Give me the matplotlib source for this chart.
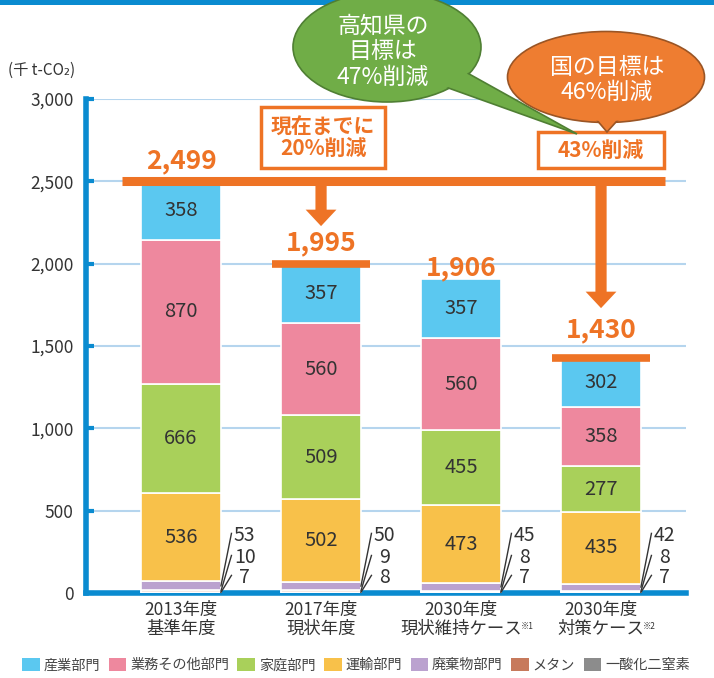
import matplotlib.pyplot as plt
import numpy as np
from matplotlib.patches import Ellipse, Polygon, Rectangle, FancyArrow, Patch

plt.rcParams['font.family'] = ['Noto Sans CJK JP', 'DejaVu Sans']

# categories
years = ['2013年度', '2017年度', '2030年度', '2030年度']
cases = ['基準年度', '現状年度', '現状維持ケース', '対策ケース']
notes = ['', '', '※1', '※2']

# emissions by sector (千 t-CO2)
sectors = ['産業部門', '業務その他部門', '家庭部門', '運輸部門', '廃棄物部門', 'メタン', '一酸化二窒素']
industry = [358, 357, 357, 302]
commercial = [870, 560, 560, 358]
household = [666, 509, 455, 277]
transport = [536, 502, 473, 435]
waste = [53, 50, 45, 42]
methane = [10, 9, 8, 8]
n2o = [7, 8, 7, 7]
totals = [2499, 1995, 1906, 1430]

colors = ['#5bc8f0', '#ee889e', '#a9d05a', '#f8c14a', '#bba2cf', '#c77a5c', '#8c8c8c']
orange = '#ee7325'
blue = '#0a8bd0'
dark = '#333333'

fig = plt.figure(figsize=(7.14, 6.78), dpi=100)
W, H = 714, 678
ax = fig.add_axes([86 / W, 1 - 593 / H, 600 / W, 494 / H])

x = np.arange(len(years))
bw = 0.57
stack = [n2o, methane, waste, transport, household, commercial, industry]
stack_colors = colors[::-1]
bottom = np.zeros(len(x))
bottoms = []
for vals, col in zip(stack, stack_colors):
    vals = np.array(vals, dtype=float)
    ax.bar(x, vals, width=bw, bottom=bottom, color=col, edgecolor='white', linewidth=1.2, zorder=3)
    bottoms.append(bottom.copy())
    bottom = bottom + vals

# values inside the big segments
for k in range(3, 7):
    for i in x:
        v = stack[k][i]
        ax.text(i, bottoms[k][i] + v / 2, f'{v}', ha='center', va='center',
                fontsize=14.5, color=dark, zorder=5)

# small segments: labels with leader lines
label_y = [352, 218, 97]
for i in x:
    right = i + bw / 2
    for k, ly in zip([2, 1, 0], label_y):
        v = stack[k][i]
        mid = bottoms[k][i] + v / 2
        ax.plot([right, right + 0.075], [mid, ly + 10], color=dark, lw=1, zorder=5,
                clip_on=False)
        ax.text(right + 0.17, ly, f'{v}', ha='center', va='center', fontsize=14,
                color=dark, zorder=5)

# axes style
ax.set_xlim(-0.679, 3.607)
ax.set_ylim(0, 3000)
ax.set_yticks(np.arange(0, 3001, 500))
ax.set_yticklabels([f'{v:,}' for v in range(0, 3001, 500)])
ax.set_xticks(x)
ax.set_xticklabels([f'{y}\n{c}' for y, c in zip(years, cases)], linespacing=1.05)
for s in ['top', 'right']:
    ax.spines[s].set_visible(False)
for s in ['left', 'bottom']:
    ax.spines[s].set_color(blue)
    ax.spines[s].set_linewidth(4)
ax.yaxis.grid(True, color='#b5d5ee', lw=1.5, zorder=0)
ax.set_axisbelow(True)
ax.tick_params(axis='y', direction='in', length=6, width=3, color=blue,
               labelsize=12.5, labelcolor=dark, pad=9)
ax.tick_params(axis='x', length=0, labelsize=12.5, labelcolor=dark, pad=6)

# superscript notes next to the case names
ticklabels = ax.get_xticklabels()
for lab, n in zip(ticklabels, notes):
    if n:
        ax.annotate(n, xy=(1.0, 0.2), xycoords=lab, xytext=(-1, 0),
                    textcoords='offset points', ha='left', va='bottom',
                    fontsize=6, color=dark)

# totals line, arrows and total labels
ax.plot([-0.42, 3.46], [totals[0], totals[0]], color=orange, lw=6.5,
        solid_capstyle='butt', zorder=6)
for i in [1, 3]:
    ax.plot([i - 0.35, i + 0.35], [totals[i], totals[i]], color=orange, lw=5.5,
            solid_capstyle='butt', zorder=6)
tip_offset = {1: 233, 3: 300}
for i, off in tip_offset.items():
    tip = totals[i] + off
    ax.add_patch(FancyArrow(i, totals[0], 0, tip - totals[0], width=0.08,
                            head_width=0.22, head_length=100,
                            length_includes_head=True, color=orange, lw=0, zorder=6))
label_off = [124, 130, 67, 167]
for i in x:
    ax.text(i, totals[i] + label_off[i], f'{totals[i]:,}', ha='center', va='center',
            fontsize=19, fontweight='bold', color=orange, zorder=6)

fig.text(8 / W, 1 - 70 / H, '(千 t-CO₂)', fontsize=11, color=dark, va='center', ha='left')

# overlay in pixel coordinates for callouts
ov = fig.add_axes([0, 0, 1, 1], zorder=10)
ov.set_xlim(0, W)
ov.set_ylim(H, 0)
ov.axis('off')
ov.patch.set_alpha(0)

ov.add_patch(Rectangle((0, 0), W, 5, color=blue, lw=0))

# reduction boxes
ov.add_patch(Rectangle((261, 107), 124, 61, facecolor='white', edgecolor=orange, lw=2.5))
ov.text(323, 138, '現在までに\n20%削減', ha='center', va='center', fontsize=15,
        fontweight='bold', color=orange, linespacing=1.05)
ov.add_patch(Rectangle((538, 132), 126, 36, facecolor='white', edgecolor=orange, lw=2.5))
ov.text(601, 150, '43%削減', ha='center', va='center', fontsize=15,
        fontweight='bold', color=orange)


def bubble(cx, cy, w, h, tail, fc, ec):
    ov.add_patch(Ellipse((cx, cy), w, h, facecolor=fc, edgecolor=ec, lw=1.2))
    ov.add_patch(Polygon(tail, closed=True, facecolor=fc, edgecolor=ec, lw=1.2))
    ov.add_patch(Ellipse((cx, cy), w - 3, h - 3, facecolor=fc, lw=0))


bubble(387, 47, 188, 110, [(440, 85), (462, 70), (577, 134)], '#70ad47', '#4f7f33')
ov.text(383, 52, '高知県の\n目標は\n47%削減', ha='center', va='center', fontsize=16.5,
        color='white', linespacing=1.15)
bubble(606, 77, 197, 91, [(590, 112), (625, 112), (607, 132)], '#ee7d31', '#9a5525')
ov.text(607, 80, '国の目標は\n46%削減', ha='center', va='center', fontsize=16.5,
        color='white', linespacing=1.15)

# legend
handles = [Patch(facecolor=c, edgecolor='none') for c in colors]
fig.legend(handles, sectors, loc='center left', bbox_to_anchor=(22 / W, 1 - 665 / H),
           ncol=7, frameon=False, fontsize=10.2, labelcolor='#444444',
           handlelength=1.25, handleheight=1.1, handletextpad=0.27,
           columnspacing=0.6, borderpad=0, borderaxespad=0)

fig.savefig('out.png', dpi=100)
